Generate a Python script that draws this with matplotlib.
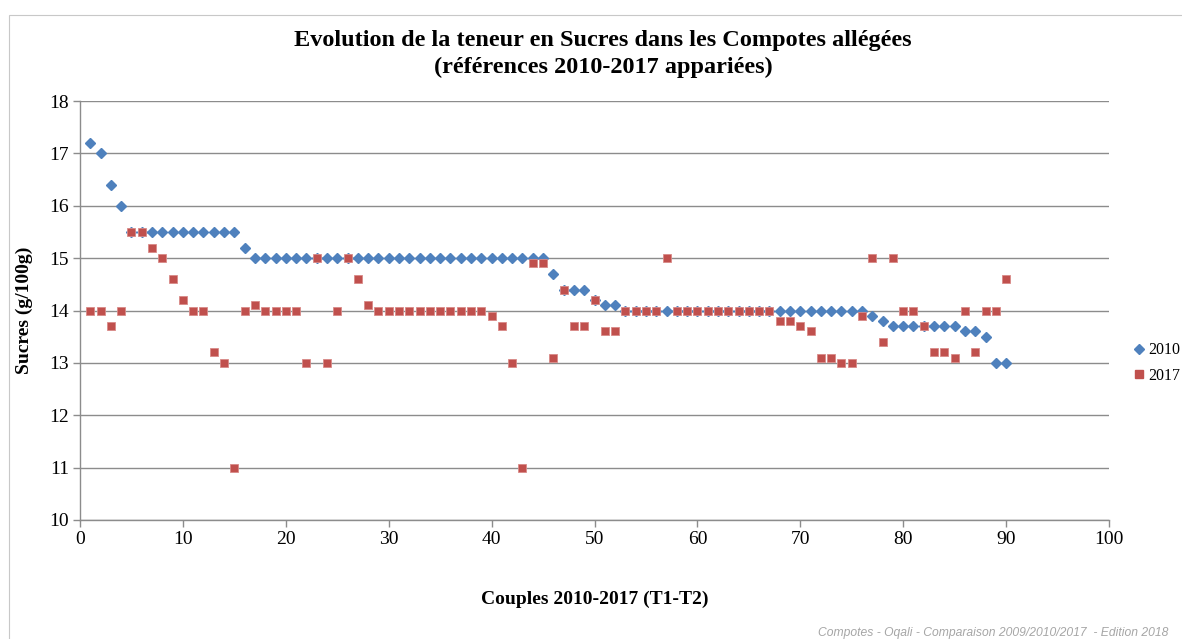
import numpy as np
import matplotlib
matplotlib.use("Agg")
import matplotlib.pyplot as plt
from matplotlib.lines import Line2D

# couples 1..90
couples = list(range(1, 91))

sucres_2010 = [17.2, 17.0, 16.4, 16.0, 15.5, 15.5, 15.5, 15.5, 15.5, 15.5,
               15.5, 15.5, 15.5, 15.5, 15.5, 15.2, 15.0, 15.0, 15.0, 15.0,
               15.0, 15.0, 15.0, 15.0, 15.0, 15.0, 15.0, 15.0, 15.0, 15.0,
               15.0, 15.0, 15.0, 15.0, 15.0, 15.0, 15.0, 15.0, 15.0, 15.0,
               15.0, 15.0, 15.0, 15.0, 15.0, 14.7, 14.4, 14.4, 14.4, 14.2,
               14.1, 14.1, 14.0, 14.0, 14.0, 14.0, 14.0, 14.0, 14.0, 14.0,
               14.0, 14.0, 14.0, 14.0, 14.0, 14.0, 14.0, 14.0, 14.0, 14.0,
               14.0, 14.0, 14.0, 14.0, 14.0, 14.0, 13.9, 13.8, 13.7, 13.7,
               13.7, 13.7, 13.7, 13.7, 13.7, 13.6, 13.6, 13.5, 13.0, 13.0]

sucres_2017 = [14.0, 14.0, 13.7, 14.0, 15.5, 15.5, 15.2, 15.0, 14.6, 14.2,
               14.0, 14.0, 13.2, 13.0, 11.0, 14.0, 14.1, 14.0, 14.0, 14.0,
               14.0, 13.0, 15.0, 13.0, 14.0, 15.0, 14.6, 14.1, 14.0, 14.0,
               14.0, 14.0, 14.0, 14.0, 14.0, 14.0, 14.0, 14.0, 14.0, 13.9,
               13.7, 13.0, 11.0, 14.9, 14.9, 13.1, 14.4, 13.7, 13.7, 14.2,
               13.6, 13.6, 14.0, 14.0, 14.0, 14.0, 15.0, 14.0, 14.0, 14.0,
               14.0, 14.0, 14.0, 14.0, 14.0, 14.0, 14.0, 13.8, 13.8, 13.7,
               13.6, 13.1, 13.1, 13.0, 13.0, 13.9, 15.0, 13.4, 15.0, 14.0,
               14.0, 13.7, 13.2, 13.2, 13.1, 14.0, 13.2, 14.0, 14.0, 14.6]

blue = "#4F81BD"
red = "#C0504D"
grey = "#8C8C8C"
serif = ["Liberation Serif", "DejaVu Serif"]

fig = plt.figure(figsize=(11.82, 6.39), dpi=100)
ax = fig.add_axes([80/1182, 1 - 520/639, 1029/1182, 419/639])

# outer chart frame (Excel style)
fig.add_artist(plt.Rectangle((9/1182, -0.1), 1.2, 1 - 15/639 + 0.1,
                             transform=fig.transFigure, fill=False,
                             edgecolor="#C8C8C8", lw=0.8))

ax.plot(couples, sucres_2010, linestyle="none", marker="D", ms=4.6,
        color=blue, markeredgecolor=blue, zorder=3)
ax.plot(couples, sucres_2017, linestyle="none", marker="s", ms=6.0,
        color=red, markeredgecolor="#D98A88", markeredgewidth=0.6, zorder=4)

ax.set_xlim(0, 100)
ax.set_ylim(10, 18)
ax.set_xticks(range(0, 101, 10))
ax.set_yticks(range(10, 19))
ax.yaxis.grid(True, color=grey, lw=1.0)
ax.set_axisbelow(True)
for s in ["top", "right"]:
    ax.spines[s].set_visible(False)
for s in ["left", "bottom"]:
    ax.spines[s].set_color(grey)
    ax.spines[s].set_linewidth(1.0)
ax.tick_params(axis="both", colors=grey, length=5, width=1.0, labelcolor="black",
               labelsize=14, pad=3)
for lab in ax.get_xticklabels() + ax.get_yticklabels():
    lab.set_family(serif)

ax.set_ylabel("Sucres (g/100g)", fontsize=14, fontweight="bold", family=serif)
ax.yaxis.set_label_coords(-47/1029, 0.5)
ax.set_xlabel("Couples 2010-2017 (T1-T2)", fontsize=14, fontweight="bold", family=serif)
ax.xaxis.set_label_coords(0.5, -71/419)

fig.text(603/1182, 1 - 54/639, "Evolution de la teneur en Sucres dans les Compotes allégées\n(références 2010-2017 appariées)",
         ha="center", va="center", fontsize=17.5, fontweight="bold", family=serif, linespacing=1.35)

handles = [Line2D([], [], linestyle="none", marker="D", ms=4.6, color=blue),
           Line2D([], [], linestyle="none", marker="s", ms=6.0, color=red)]
fig.legend(handles, ["2010", "2017"], loc="center left", bbox_to_anchor=(1126/1182, 1 - 363/639),
           frameon=False, handlelength=0.6, handletextpad=0.3, labelspacing=0.6, borderpad=0,
           prop={"family": serif, "size": 11.5})

fig.text(818/1182, 1 - 633/639, "Compotes - Oqali - Comparaison 2009/2010/2017  - Edition 2018",
         ha="left", va="center", fontsize=8.7, style="italic", color="#A6A6A6", family=["Liberation Sans", "DejaVu Sans"])

fig.savefig("out.png", dpi=100)
